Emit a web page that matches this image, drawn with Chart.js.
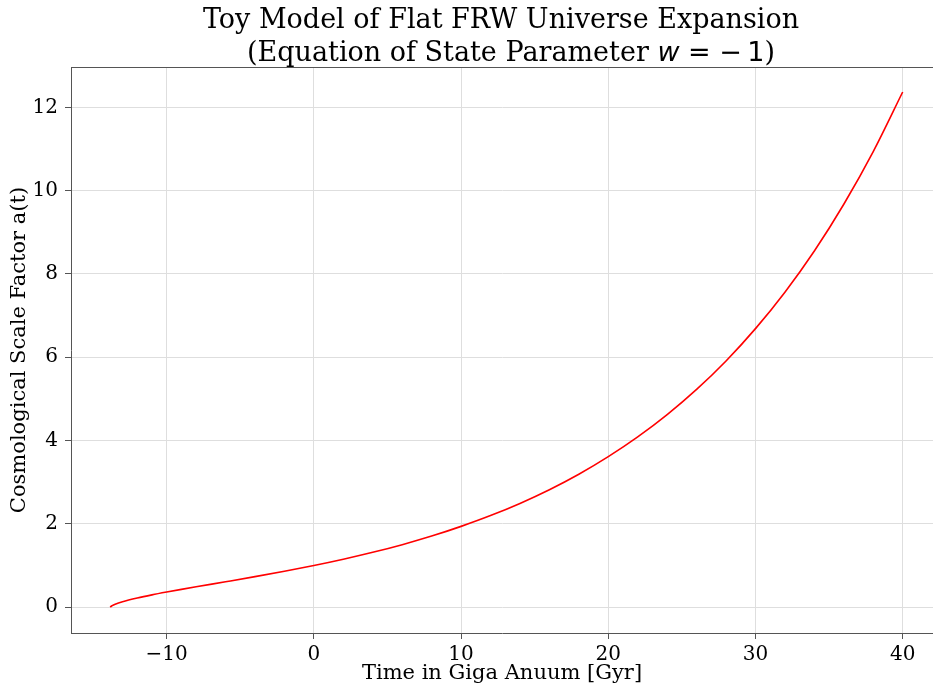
<!DOCTYPE html>
<html>
<head>
<meta charset="utf-8">
<script src="https://cdn.jsdelivr.net/npm/chart.js@4/dist/chart.umd.min.js"></script>
<style>
  html, body { margin: 0; padding: 0; background: #fff; }
  #chart { display: block; }
</style>
</head>
<body>
<canvas id="chart" width="933" height="686"></canvas>
<script>
// time since today in Gyr (negative = past)
var timeGyr = [-13.83, -13.8, -13.7, -13.5, -13, -12, -11, -10, -9, -8, -6, -4, -2, 0,
               2, 4, 6, 8, 10, 12, 14, 16, 18, 20, 22, 24, 26, 28, 30, 32, 34, 36, 38, 40];
// scale factor a(t) at those times
var scaleFactor = [0, 0.014, 0.038, 0.070, 0.129, 0.219, 0.295, 0.363, 0.427, 0.489, 0.610, 0.733, 0.862, 1.0,
                   1.151, 1.317, 1.501, 1.707, 1.940, 2.199, 2.491, 2.820, 3.192, 3.614, 4.088, 4.624, 5.229, 5.912, 6.688,
                   7.563, 8.552, 9.675, 10.94, 12.37];

var xTicks = [-10, 0, 10, 20, 30, 40];
var yTicks = [0, 2, 4, 6, 8, 10, 12];

var titleLine1 = 'Toy Model of Flat FRW Universe Expansion';
var xLabel = 'Time in Giga Anuum [Gyr]';
var yLabel = 'Cosmological Scale Factor a(t)';

var serif = "'DejaVu Serif', 'Liberation Serif', serif";
var sans = "'DejaVu Sans', 'Liberation Sans', sans-serif";
var spine = '#555555';
var gridColor = '#dedede';

var points = timeGyr.map(function(t, i) {
    return { x: t, y: scaleFactor[i] };
});

// draws the two-line title (second line has mathtext-like "w = -1") and the top spine
var decorations = {
    id: 'decorations',
    afterDraw: function(chart) {
        var ctx = chart.ctx;
        var area = chart.chartArea;
        var cx = 501;

        ctx.save();
        // top spine
        ctx.strokeStyle = spine;
        ctx.lineWidth = 1;
        ctx.beginPath();
        ctx.moveTo(area.left, area.top + 0.5);
        ctx.lineTo(area.right, area.top + 0.5);
        ctx.stroke();

        ctx.fillStyle = '#000';
        ctx.textBaseline = 'alphabetic';
        ctx.textAlign = 'center';
        ctx.font = '27px ' + serif;
        ctx.fillText(titleLine1, cx, 28);

        // second line built from pieces
        var parts = [
            { text: '(Equation of State Parameter ', font: '27px ' + serif },
            { text: 'w', font: 'italic 27px ' + sans },
            { text: ' = \u2212\u20091', font: '27px ' + sans },
            { text: ')', font: '27px ' + serif }
        ];
        var total = 0;
        parts.forEach(function(p) {
            ctx.font = p.font;
            p.w = ctx.measureText(p.text).width;
            total += p.w;
        });
        var x = cx + 10 - total / 2;
        ctx.textAlign = 'left';
        parts.forEach(function(p) {
            ctx.font = p.font;
            ctx.fillText(p.text, x, 61);
            x += p.w;
        });
        ctx.restore();
    }
};

var ctx = document.getElementById('chart').getContext('2d');
var chart = new Chart(ctx, {
    type: 'line',
    data: {
        datasets: [{
            data: points,
            borderColor: '#ff0000',
            borderWidth: 1.6,
            pointRadius: 0,
            fill: false,
            cubicInterpolationMode: 'monotone'
        }]
    },
    options: {
        responsive: false,
        animation: false,
        layout: { padding: { top: 67, left: 0, right: 0, bottom: 0 } },
        plugins: {
            legend: { display: false },
            title: { display: false },
            tooltip: { enabled: false }
        },
        scales: {
            x: {
                type: 'linear',
                min: -16.5,
                max: 42.06,
                afterBuildTicks: function(scale) {
                    scale.ticks = xTicks.map(function(v) { return { value: v }; });
                },
                afterFit: function(scale) { scale.height = 53; },
                ticks: {
                    color: '#000',
                    padding: 4,
                    maxRotation: 0,
                    font: { family: serif, size: 20 },
                    callback: function(v) { return v < 0 ? '\u2212' + Math.abs(v) : String(v); }
                },
                grid: { color: gridColor, tickColor: spine, tickLength: 6, lineWidth: 1 },
                border: { color: spine, width: 1 },
                title: {
                    display: true,
                    text: xLabel,
                    color: '#000',
                    font: { family: serif, size: 21 },
                    padding: { top: 0, bottom: 0 }
                }
            },
            y: {
                min: -0.62,
                max: 12.97,
                afterBuildTicks: function(scale) {
                    scale.ticks = yTicks.map(function(v) { return { value: v }; });
                },
                afterFit: function(scale) { scale.width = 71; },
                ticks: {
                    color: '#000',
                    padding: 7,
                    font: { family: serif, size: 20 }
                },
                grid: { color: gridColor, tickColor: spine, tickLength: 6, lineWidth: 1 },
                border: { color: spine, width: 1 },
                title: {
                    display: true,
                    text: yLabel,
                    color: '#000',
                    font: { family: serif, size: 21 },
                    padding: { top: 7, bottom: 0 }
                }
            }
        }
    },
    plugins: [decorations]
});
</script>
</body>
</html>
